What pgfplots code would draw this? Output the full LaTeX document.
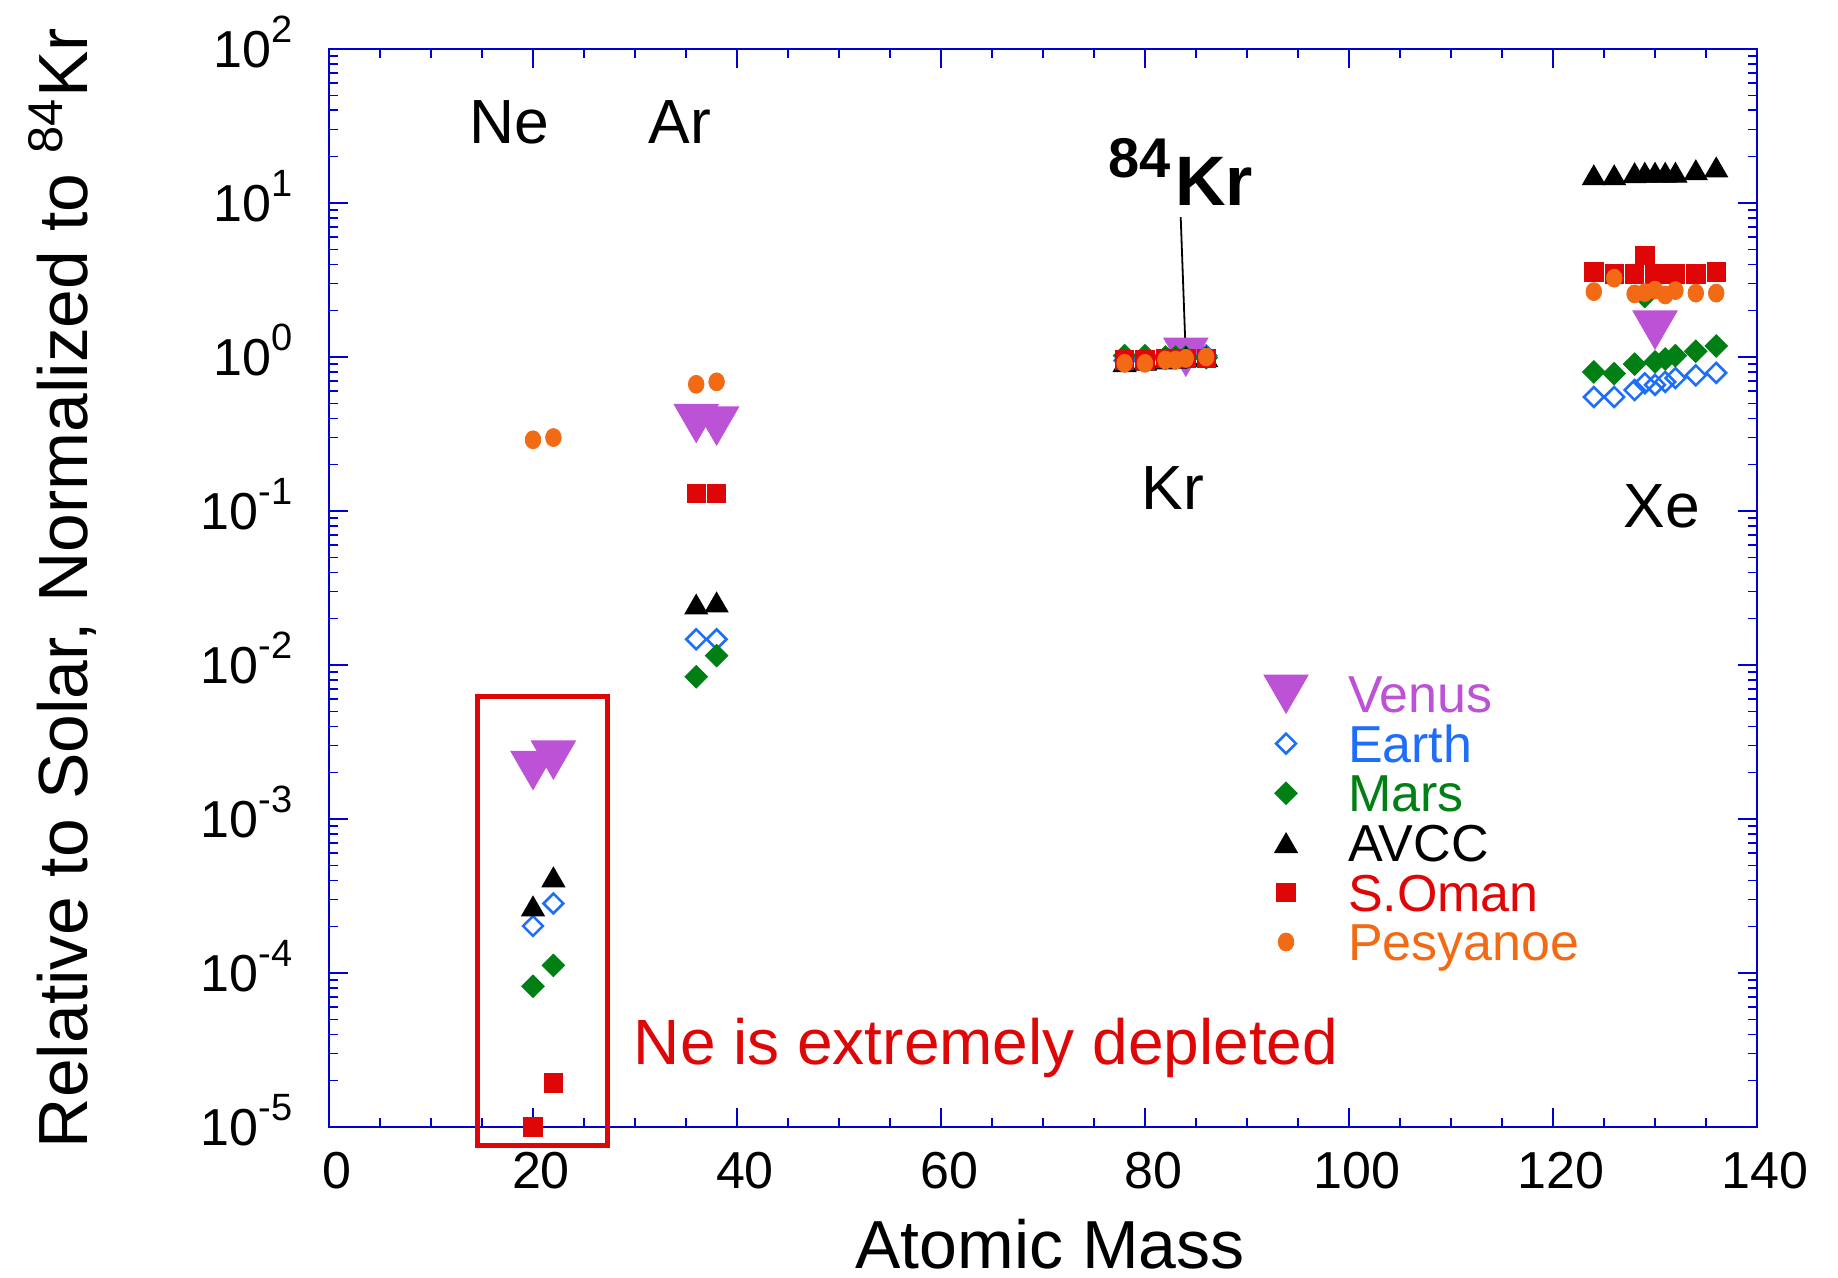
\documentclass[border=0pt]{standalone}
\usepackage{pgfplots}
\pgfplotsset{compat=1.18}
\usepackage{fontspec}
\setmainfont{Liberation Sans}
\definecolor{venus}{RGB}{188,82,214}
\definecolor{earth}{RGB}{30,110,250}
\definecolor{mars}{RGB}{0,128,20}
\definecolor{soman}{RGB}{222,6,6}
\definecolor{pesy}{RGB}{242,106,20}
\definecolor{axblue}{RGB}{0,0,210}
\newcommand{\ex}[1]{\raisebox{6.3pt}{\fontsize{9.5}{9.5}\selectfont #1}}
\begin{document}
\begin{tikzpicture}
\useasboundingbox (-82.25pt,-37.5pt) rectangle (377.25pt,281.75pt);
\begin{axis}[
  at={(0pt,0pt)}, anchor=south west,
  scale only axis, width=357pt, height=269.5pt,
  xmin=0, xmax=140, ymin=1e-5, ymax=1e2, ymode=log,
  clip=false,
  axis line style={axblue, line width=0.6pt},
  tick style={axblue, line width=0.4pt},
  tick align=inside,
  major tick length=4.8pt, minor tick length=2.2pt,
  xtick={0,20,...,140}, minor x tick num=3,
  ytick={1e-5,1e-4,1e-3,1e-2,1e-1,1,10,100},
  yticklabels={10\ex{-5},10\ex{-4},10\ex{-3},10\ex{-2},10\ex{-1},10\ex{0},10\ex{1},10\ex{2}},
  minor ytick={2e-5,3e-5,4e-5,5e-5,6e-5,7e-5,8e-5,9e-5,
               2e-4,3e-4,4e-4,5e-4,6e-4,7e-4,8e-4,9e-4,
               2e-3,3e-3,4e-3,5e-3,6e-3,7e-3,8e-3,9e-3,
               2e-2,3e-2,4e-2,5e-2,6e-2,7e-2,8e-2,9e-2,
               0.2,0.3,0.4,0.5,0.6,0.7,0.8,0.9,
               2,3,4,5,6,7,8,9,20,30,40,50,60,70,80,90},
  /pgf/number format/assume math mode=true,
  xticklabel style={font=\fontsize{13}{13}\selectfont, anchor=north, inner sep=0pt, yshift=-6pt, xshift=2pt},
  yticklabel style={font=\fontsize{13}{13}\selectfont, anchor=base east, inner sep=0pt, xshift=-9pt, yshift=-4.65pt},
  xlabel={Atomic Mass},
  ylabel={Relative to Solar, Normalized to \textsuperscript{84}Kr},
  every axis x label/.style={at={(axis description cs:0.505,-0.1308)}, anchor=base, font=\fontsize{17}{17}\selectfont},
  every axis y label/.style={at={(axis description cs:-0.1688,0.5)}, rotate=90, anchor=base, font=\fontsize{17.4}{17.4}\selectfont},
  legend style={draw=none, fill=none, inner sep=0pt, outer sep=0pt, row sep=0pt,
    at={(0.6478,0.4247)}, anchor=north west, font=\fontsize{13}{13}\selectfont,
    nodes={inner sep=0pt, text height=10.85pt, text depth=1.55pt},
    /tikz/every odd column/.style={column sep=7.5pt}},
  legend cell align=left,
  pts/.style={only marks, legend image code/.code={\path[draw=none,fill=none] (-8pt,-1pt) rectangle (8pt,1pt); \draw[##1] plot coordinates {(0pt,0pt)};}},
]
% Venus
\addplot[pts, color=venus, mark=triangle*, mark size=6.3pt, mark options={yshift=1.575pt, rotate=180, fill=venus, line width=0.3pt}] coordinates {
(20,2.07e-3) (22,2.42e-3) (36,0.371) (38,0.357) (84,1.0) (130,1.5)};
\addlegendentry{\textcolor{venus}{Venus}}
% Earth
\addplot[pts, color=earth, mark=square, mark size=1.75pt, mark options={rotate=45, line width=0.65pt, fill=white}] coordinates {
(20,2.02e-4) (22,2.83e-4) (36,0.0147) (38,0.0147)
(78,0.95) (80,0.97) (82,0.98) (83,0.99) (84,1.0) (86,1.02)
(124,0.55) (126,0.55) (128,0.61) (129,0.675) (130,0.66) (131,0.69) (132,0.73) (134,0.76) (136,0.79)};
\addlegendentry{\textcolor{earth}{Earth}}
% Mars
\addplot[pts, color=mars, mark=square*, mark size=2.0pt, mark options={rotate=45, line width=0.2pt, fill=mars}] coordinates {
(20,8.2e-5) (22,1.12e-4) (36,0.0084) (38,0.0115)
(78,1.02) (80,1.02) (82,1.0) (83,1.0) (84,1.0) (86,0.99)
(124,0.80) (126,0.78) (128,0.90) (129,2.47) (130,0.93) (131,0.97) (132,1.02) (134,1.09) (136,1.18)};
\addlegendentry{\textcolor{mars}{Mars}}
% AVCC
\addplot[pts, color=black, mark=triangle*, mark size=3.2pt, mark options={yshift=-0.8pt, fill=black, line width=0.3pt}] coordinates {
(20,2.72e-4) (22,4.2e-4) (36,0.0248) (38,0.0256)
(78,0.93) (80,0.95) (82,0.97) (83,0.98) (84,1.0) (86,1.0)
(124,15.2) (126,15.2) (128,15.7) (129,15.8) (130,15.8) (131,15.8) (132,15.8) (134,16.4) (136,17.1)};
\addlegendentry{\textcolor{black}{AVCC}}
% S.Oman
\addplot[pts, color=soman, mark=square*, mark size=2.3pt, mark options={line width=0.2pt, fill=soman}] coordinates {
(20,1.0e-5) (22,1.93e-5) (36,0.13) (38,0.13)
(78,0.96) (80,0.96) (82,0.98) (83,0.98) (84,0.98) (86,0.98)
(124,3.58) (126,3.46) (128,3.46) (129,4.55) (130,3.46) (131,3.46) (132,3.46) (134,3.46) (136,3.58)};
\addlegendentry{\textcolor{soman}{S.Oman}}
% Pesyanoe
\addplot[pts, color=pesy, mark=*, mark size=1.95pt, mark options={yscale=1.15, line width=0.2pt, fill=pesy}] coordinates {
(20,0.29) (22,0.30) (36,0.665) (38,0.69)
(78,0.91) (80,0.91) (82,0.957) (83,0.957) (84,0.98) (86,1.0)
(124,2.66) (126,3.25) (128,2.57) (129,2.62) (130,2.72) (131,2.53) (132,2.70) (134,2.6) (136,2.6)};
\addlegendentry{\textcolor{pesy}{Pesyanoe}}

\node[anchor=base, inner sep=0pt, font=\fontsize{15.6}{15.6}\selectfont] at (rel axis cs:0.126,0.912) {Ne};
\node[anchor=base, inner sep=0pt, font=\fontsize{15.6}{15.6}\selectfont] at (rel axis cs:0.2458,0.912) {Ar};
\node[anchor=base, inner sep=0pt, font=\fontsize{15.6}{15.6}\selectfont] at (rel axis cs:0.591,0.5724) {Kr};
\node[anchor=base, inner sep=0pt, font=\fontsize{15.6}{15.6}\selectfont] at (rel axis cs:0.9335,0.5566) {Xe};
\node[anchor=base west, inner sep=0pt, text=soman, font=\fontsize{16}{16}\selectfont] at (rel axis cs:0.2129,0.0584) {Ne is extremely depleted};
\draw[soman, line width=1.25pt] (rel axis cs:0.1043,-0.0167) rectangle (rel axis cs:0.1947,0.3998);
\node[anchor=base west, inner sep=0pt] at (rel axis cs:0.5455,0.8553) {\bfseries\fontsize{14}{14}\selectfont\raisebox{7pt}{84}\hspace{1pt}\fontsize{17.5}{17.5}\selectfont Kr};
\draw[black, line width=0.45pt] (axis cs:83.5,8.1) -- (axis cs:84,1);
\end{axis}
\end{tikzpicture}
\end{document}
